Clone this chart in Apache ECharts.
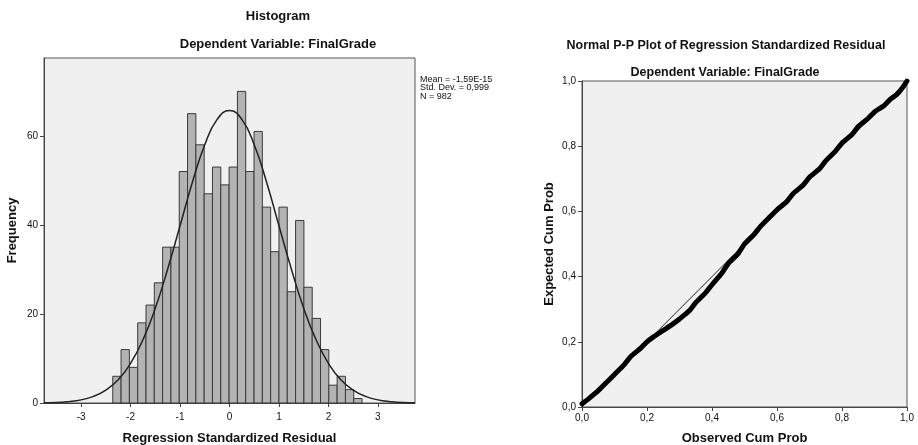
<!DOCTYPE html>
<html><head><meta charset="utf-8">
<script src="https://cdn.jsdelivr.net/npm/echarts@6/dist/echarts.min.js"></script>
<style>html,body{margin:0;padding:0;background:#fff}#c{width:918px;height:445px}</style>
</head><body><div id="c"></div>
<script>
// Histogram data
const binLow = -2.36;
const binWidth = 0.168;
const binCounts = [6,12,8,18,22,27,35,35,52,65,58,47,53,49,53,70,52,61,44,34,44,25,41,26,19,12,4,6,3,1];
const curveX = [-3.75,-3.5,-3.25,-3,-2.75,-2.5,-2.25,-2,-1.75,-1.5,-1.25,-1,-0.75,-0.5,-0.25,0,0.25,0.5,0.75,1,1.25,1.5,1.75,2,2.25,2.5,2.75,3,3.25,3.5,3.75];
const curveY = [0.06,0.1,0.3,0.7,1.5,2.9,5.2,8.9,14.2,21.3,30.1,39.8,49.6,58.0,63.7,65.7,63.7,58.0,49.6,39.8,30.1,21.3,14.2,8.9,5.2,2.9,1.5,0.7,0.3,0.1,0.06];
const histXTicks = [-3,-2,-1,0,1,2,3];
const histYTicks = [0,20,40,60];
const statsLines = ['Mean = -1,59E-15','Std. Dev. = 0,999','N = 982'];
// P-P plot data
const ppObserved = [0,0.02,0.05,0.08,0.10,0.13,0.15,0.18,0.20,0.22,0.25,0.28,0.30,0.33,0.35,0.38,0.40,0.43,0.45,0.48,0.50,0.53,0.55,0.58,0.60,0.63,0.65,0.68,0.70,0.73,0.75,0.78,0.80,0.83,0.85,0.88,0.90,0.93,0.95,0.97,0.99,1.0];
const ppExpected = [0.01,0.025,0.05,0.08,0.10,0.13,0.155,0.18,0.20,0.215,0.235,0.255,0.27,0.295,0.32,0.35,0.375,0.41,0.44,0.47,0.50,0.53,0.555,0.585,0.605,0.63,0.655,0.68,0.705,0.73,0.755,0.785,0.81,0.835,0.86,0.885,0.905,0.925,0.945,0.96,0.985,1.0];
const ppTicks = [0,0.2,0.4,0.6,0.8,1.0];

const FONT = '"Liberation Sans", Arial, sans-serif';
const histData = binCounts.map((c,i)=>[binLow+i*binWidth, binLow+(i+1)*binWidth, c]);
const curveData = curveX.map((x,i)=>[x, curveY[i]]);
const ppData = ppObserved.map((x,i)=>[x, ppExpected[i]]);
const comma = v => v.toFixed(1).replace('.', ',');

const lineStyleAxis = {show:true,onZero:false,lineStyle:{color:'#444',width:1}};
const nameStyle = {color:'#111',fontSize:13,fontWeight:'bold',fontFamily:FONT};
const labelBase = {color:'#111',fontSize:10,fontFamily:FONT};

const chart = echarts.init(document.getElementById('c'), null, {renderer:'canvas'});
chart.setOption({
  animation:false,
  backgroundColor:'#fff',
  title:[
    {text:'Histogram',left:273,top:5,textAlign:'center',textStyle:{fontSize:13,fontWeight:'bold',fontFamily:FONT,color:'#111'}},
    {text:'Dependent Variable: FinalGrade',left:273,top:33,textAlign:'center',textStyle:{fontSize:13,fontWeight:'bold',fontFamily:FONT,color:'#111'}},
    {text:'Normal P-P Plot of Regression Standardized Residual',left:721,top:34,textAlign:'center',textStyle:{fontSize:12.5,fontWeight:'bold',fontFamily:FONT,color:'#111'}},
    {text:'Dependent Variable: FinalGrade',left:720,top:61,textAlign:'center',textStyle:{fontSize:12.5,fontWeight:'bold',fontFamily:FONT,color:'#111'}}
  ],
  graphic:[{type:'text',left:420,top:75,style:{text:statsLines.join('\n'),font:'9px '+FONT,fill:'#111',lineHeight:8.5}}],
  grid:[
    {left:44,top:58,width:371,height:345,show:true,backgroundColor:'#f0f0f0',borderColor:'#555',borderWidth:1,containLabel:false,outerBoundsMode:'none'},
    {left:582,top:81,width:325,height:326,show:true,backgroundColor:'#f0f0f0',borderColor:'#555',borderWidth:1,containLabel:false,outerBoundsMode:'none'}
  ],
  xAxis:[
    {type:'value',gridIndex:0,min:-3.75,max:3.75,
      name:'Regression Standardized Residual',nameLocation:'middle',nameGap:29,nameTextStyle:nameStyle,
      axisLine:lineStyleAxis,splitLine:{show:false},
      axisTick:{show:true,length:4,lineStyle:{color:'#444'},customValues:histXTicks},
      axisLabel:Object.assign({margin:9,customValues:histXTicks},labelBase)},
    {type:'value',gridIndex:1,min:0,max:1,interval:0.2,
      name:'Observed Cum Prob',nameLocation:'middle',nameGap:25,nameTextStyle:nameStyle,
      axisLine:lineStyleAxis,splitLine:{show:false},
      axisTick:{show:true,length:4,lineStyle:{color:'#444'}},
      axisLabel:Object.assign({margin:6,formatter:comma},labelBase)}
  ],
  yAxis:[
    {type:'value',gridIndex:0,min:0,max:77.5,
      name:'Frequency',nameLocation:'middle',nameGap:25,nameTextStyle:nameStyle,
      axisLine:lineStyleAxis,splitLine:{show:false},
      axisTick:{show:true,length:4,lineStyle:{color:'#444'},customValues:histYTicks},
      axisLabel:Object.assign({margin:6,customValues:histYTicks},labelBase)},
    {type:'value',gridIndex:1,min:0,max:1,interval:0.2,
      name:'Expected Cum Prob',nameLocation:'middle',nameGap:26,nameTextStyle:nameStyle,
      axisLine:lineStyleAxis,splitLine:{show:false},
      axisTick:{show:true,length:4,lineStyle:{color:'#444'}},
      axisLabel:Object.assign({margin:6,formatter:comma},labelBase)}
  ],
  series:[
    {type:'custom',xAxisIndex:0,yAxisIndex:0,data:histData,
      renderItem:function(params, api){
        const p0 = api.coord([api.value(0), api.value(2)]);
        const p1 = api.coord([api.value(1), 0]);
        return {type:'rect',shape:{x:p0[0],y:p0[1],width:p1[0]-p0[0],height:p1[1]-p0[1]},
          style:{fill:'#b3b3b3',stroke:'#3a3a3a',lineWidth:1}};
      }},
    {type:'line',xAxisIndex:0,yAxisIndex:0,data:curveData,smooth:true,showSymbol:false,
      lineStyle:{color:'#222',width:1.5}},
    {type:'line',xAxisIndex:1,yAxisIndex:1,data:[[0,0],[1,1]],showSymbol:false,
      lineStyle:{color:'#222',width:1}},
    {type:'line',xAxisIndex:1,yAxisIndex:1,data:ppData,showSymbol:false,smooth:0.2,
      lineStyle:{color:'#000',width:5,cap:'round',join:'round'}}
  ]
});
</script></body></html>
